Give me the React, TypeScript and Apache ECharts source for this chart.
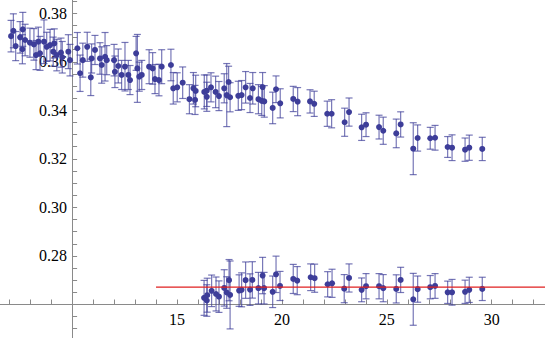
import React, { useEffect, useRef } from "react";
import * as echarts from "echarts";

const upperX = [7.09, 7.2, 7.31, 7.52, 7.65, 7.76, 7.63, 7.99, 8.18, 8.28, 8.39, 8.47, 8.66, 8.79, 8.95, 9.1, 9.15, 9.27, 9.47, 9.53, 9.82, 9.9, 10.25, 10.38, 10.51, 10.72, 10.89, 10.93, 11.09, 11.33, 11.41, 11.57, 11.65, 12.0, 12.04, 12.2, 12.36, 12.52, 12.68, 12.76, 13.05, 13.11, 13.2, 13.32, 13.67, 13.84, 13.95, 14.14, 14.27, 14.71, 14.82, 15.01, 15.27, 15.59, 15.78, 15.86, 15.89,
  16.3, 16.42, 16.42, 16.62, 16.84, 17.0, 17.25, 17.46, 17.37, 17.53, 17.92, 18.08, 18.27, 18.48, 18.61, 18.88, 19.08, 19.04, 19.16, 19.56, 19.72, 19.92,
  20.54, 20.75, 21.34, 21.54, 22.16, 22.37, 22.99, 23.2,
  23.8, 24.01, 24.63, 24.83, 25.45, 25.66, 26.26, 26.47, 27.07, 27.3, 27.9, 28.11, 28.73, 28.93, 29.55];
const upperY = [0.3706, 0.3728, 0.3665, 0.3701, 0.3734, 0.369, 0.3652, 0.3679, 0.3672, 0.3628, 0.3683, 0.3635, 0.3683, 0.3662, 0.3669, 0.3642, 0.3676, 0.3628, 0.3638, 0.3619, 0.3642, 0.3607, 0.3656, 0.3553, 0.3607, 0.3662, 0.3536, 0.3614, 0.3649, 0.3614, 0.3587, 0.3621, 0.3607, 0.3607, 0.3559, 0.3583, 0.3546, 0.358, 0.3546, 0.3525, 0.3635, 0.3573, 0.3539, 0.3546, 0.358, 0.3573, 0.3529, 0.3525, 0.358, 0.3587, 0.3491, 0.3495, 0.3514, 0.3446, 0.3491, 0.3443, 0.348,
  0.3476, 0.3481, 0.3456, 0.3495, 0.3476, 0.3459, 0.3491, 0.3517, 0.3463, 0.3454, 0.346, 0.3463, 0.3495, 0.3451, 0.3491, 0.3446, 0.3496, 0.3439, 0.3437, 0.341, 0.3487, 0.3429,
  0.3447, 0.3436, 0.3437, 0.3427, 0.3386, 0.3386, 0.3351, 0.3393,
  0.333, 0.3341, 0.3331, 0.3316, 0.3305, 0.3342, 0.3242, 0.3286, 0.3285, 0.3287, 0.3249, 0.3246, 0.3238, 0.3246, 0.3241];
const upperErr = [0.0065, 0.007, 0.006, 0.0065, 0.007, 0.0065, 0.006, 0.006, 0.0065, 0.006, 0.006, 0.007, 0.009, 0.006, 0.0065, 0.006, 0.006, 0.0065, 0.006, 0.0065, 0.007, 0.0065, 0.0065, 0.0075, 0.007, 0.006, 0.0075, 0.006, 0.006, 0.0065, 0.0075, 0.01, 0.006, 0.0065, 0.0065, 0.007, 0.006, 0.01, 0.006, 0.006, 0.007, 0.014, 0.006, 0.006, 0.007, 0.0065, 0.006, 0.0065, 0.007, 0.0065, 0.0065, 0.006, 0.0065, 0.006, 0.0065, 0.006, 0.0065,
  0.007, 0.0065, 0.006, 0.006, 0.0065, 0.006, 0.006, 0.0065, 0.013, 0.006, 0.006, 0.006, 0.0065, 0.006, 0.0065, 0.006, 0.006, 0.006, 0.0065, 0.0065, 0.0055, 0.006,
  0.0052, 0.0058, 0.0048, 0.0052, 0.0052, 0.0058, 0.0058, 0.0058,
  0.0054, 0.0049, 0.0049, 0.0056, 0.0059, 0.0052, 0.0107, 0.0054, 0.0045, 0.0051, 0.0043, 0.0053, 0.0048, 0.0052, 0.0048];

const lowerX = [16.29, 16.42, 16.44, 16.65, 16.86, 17.0, 17.25, 17.37, 17.48, 17.53, 17.96, 18.08, 18.27, 18.48, 18.59, 18.88, 19.08, 19.15, 19.56, 19.72, 19.91, 20.54, 20.73, 21.37, 21.56, 22.18, 22.39, 22.97, 23.2, 23.8, 24.01, 24.63, 24.83, 25.45, 25.66, 26.26, 26.47, 27.07, 27.3, 27.9, 28.11, 28.73, 28.93, 29.55];
const lowerY = [0.2627, 0.2616, 0.2638, 0.2656, 0.2643, 0.2632, 0.2668, 0.2649, 0.27, 0.2639, 0.2657, 0.266, 0.27, 0.2661, 0.2701, 0.2667, 0.2719, 0.2667, 0.2652, 0.2724, 0.2676, 0.2705, 0.2698, 0.2712, 0.2708, 0.2683, 0.2687, 0.2665, 0.2709, 0.266, 0.2675, 0.2675, 0.2667, 0.2664, 0.2701, 0.2621, 0.2663, 0.2671, 0.2676, 0.265, 0.265, 0.2652, 0.266, 0.2664];
const lowerErr = [0.0072, 0.0065, 0.007, 0.0065, 0.007, 0.0065, 0.0075, 0.0065, 0.0085, 0.014, 0.0065, 0.007, 0.0075, 0.0065, 0.0075, 0.0065, 0.0075, 0.0065, 0.0065, 0.0075, 0.006, 0.006, 0.0058, 0.0055, 0.0058, 0.0052, 0.0058, 0.0058, 0.0058, 0.0049, 0.0052, 0.0052, 0.0056, 0.0058, 0.0052, 0.0107, 0.0054, 0.0048, 0.0051, 0.0046, 0.0053, 0.0048, 0.0052, 0.0048];

const refLineX = [14.0, 33.0];
const refLineY = 0.2671;

const xTickValues = [7, 8, 9, 10, 11, 12, 13, 14, 15, 16, 17, 18, 19, 20, 21, 22, 23, 24, 25, 26, 27, 28, 29, 30, 31, 32];
const xLabelValues = [15, 20, 25, 30];
const yTickValues = [0.25, 0.255, 0.26, 0.265, 0.27, 0.275, 0.28, 0.285, 0.29, 0.295, 0.3, 0.305, 0.31, 0.315, 0.32, 0.325, 0.33, 0.335, 0.34, 0.345, 0.35, 0.355, 0.36, 0.365, 0.37, 0.375, 0.38, 0.385];
const yLabelValues = [0.28, 0.3, 0.32, 0.34, 0.36, 0.38];

const POINT_COLOR = "#3d3d99";
const AXIS_COLOR = "#8a8a8a";

export default function App() {
  const ref = useRef<HTMLDivElement>(null);

  useEffect(() => {
    if (!ref.current) return;
    const chart = echarts.init(ref.current, undefined, { renderer: "svg" });

    const upper = upperX.map((x, i) => [x, upperY[i], upperErr[i]]);
    const lower = lowerX.map((x, i) => [x, lowerY[i], lowerErr[i]]);
    const all = upper.concat(lower);

    const errRender = (params: any, api: any) => {
      const x = api.value(0);
      const y = api.value(1);
      const e = api.value(2);
      const top = api.coord([x, y + e]);
      const bot = api.coord([x, y - e]);
      const cw = 3.5;
      const style = { stroke: POINT_COLOR, lineWidth: 1.2, opacity: 0.7 };
      return {
        type: "group",
        children: [
          { type: "line", shape: { x1: top[0], y1: top[1], x2: bot[0], y2: bot[1] }, style },
          { type: "line", shape: { x1: top[0] - cw, y1: top[1], x2: top[0] + cw, y2: top[1] }, style },
          { type: "line", shape: { x1: bot[0] - cw, y1: bot[1], x2: bot[0] + cw, y2: bot[1] }, style },
        ],
      };
    };

    const fontFamily = "'Liberation Serif', 'Times New Roman', serif";

    chart.setOption({
      animation: false,
      grid: { left: 0, right: 0, top: 0, bottom: 0, containLabel: false, outerBoundsMode: "none" },
      xAxis: {
        type: "value",
        min: 6.563,
        max: 32.54,
        offset: -33.5,
        position: "bottom",
        axisLine: { show: true, onZero: false, lineStyle: { color: AXIS_COLOR, width: 1 } },
        axisTick: { show: true, inside: true, length: 5, customValues: xTickValues, lineStyle: { color: AXIS_COLOR } },
        axisLabel: {
          show: true,
          customValues: xLabelValues,
          color: "#000",
          fontFamily,
          fontSize: 16,
          margin: 7,
        },
        splitLine: { show: false },
      },
      yAxis: {
        type: "value",
        min: 0.24615,
        max: 0.3855,
        offset: -72.1,
        position: "left",
        axisLine: { show: true, onZero: false, lineStyle: { color: AXIS_COLOR, width: 1 } },
        axisTick: { show: true, inside: true, length: 5, customValues: yTickValues, lineStyle: { color: AXIS_COLOR } },
        axisLabel: {
          show: true,
          customValues: yLabelValues,
          formatter: (v: number) => v.toFixed(2),
          color: "#000",
          fontFamily,
          fontSize: 16,
          margin: 5,
        },
        splitLine: { show: false },
      },
      series: [
        {
          type: "custom",
          name: "errors",
          renderItem: errRender,
          data: all,
          encode: { x: 0, y: 1 },
          clip: true,
          z: 2,
        },
        {
          type: "scatter",
          name: "upper",
          data: upper.map((d) => [d[0], d[1]]),
          symbol: "circle",
          symbolSize: 6,
          itemStyle: { color: POINT_COLOR, opacity: 1 },
          z: 3,
        },
        {
          type: "scatter",
          name: "lower",
          data: lower.map((d) => [d[0], d[1]]),
          symbol: "circle",
          symbolSize: 6,
          itemStyle: { color: POINT_COLOR, opacity: 1 },
          z: 3,
        },
        {
          type: "line",
          name: "fit",
          data: refLineX.map((x) => [x, refLineY]),
          showSymbol: false,
          symbol: "none",
          clip: true,
          lineStyle: { color: "#e02020", width: 1.2 },
          z: 4,
        },
      ],
    });

    return () => chart.dispose();
  }, []);

  return (
    <div
      ref={ref}
      style={{ position: "fixed", left: 0, top: 0, width: 545, height: 338, background: "#fff" }}
    />
  );
}
